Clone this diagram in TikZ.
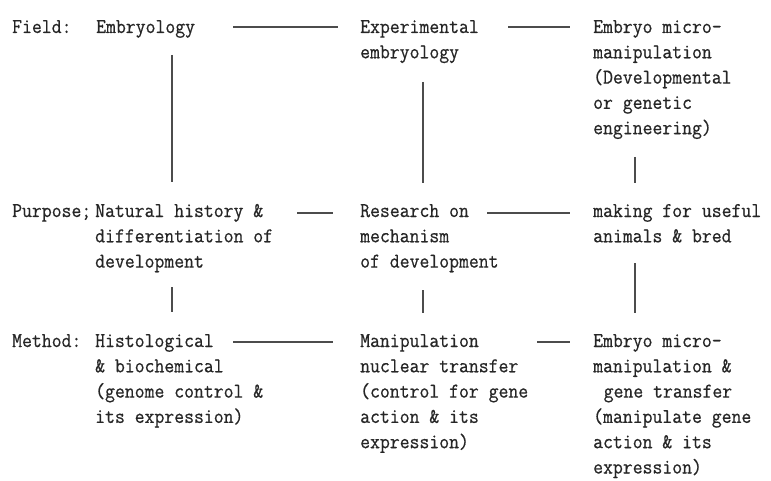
\documentclass[tikz,border=0pt]{standalone}
\usepackage{fontspec}
\newfontfamily\diagmono{Latin Modern Mono}[FakeStretch=0.914,FakeBold=0.6]
\begin{document}
\begin{tikzpicture}[x=1pt,y=-1pt]
\tikzset{
  lbl/.style={anchor=base west, inner sep=0pt, align=left,
    font=\diagmono\fontsize{21}{25.3}\selectfont, text=black!85},
  conn/.style={draw=black!70, line width=1.4pt}
}
\useasboundingbox[fill=white] (0,0) rectangle (771,481);
% row labels (anchor = baseline of last line)
\node[lbl] (fieldL) at (12,33) {Field:};
\node[lbl] (purpL) at (12,217) {Purpose;};
\node[lbl] (methL) at (12,347) {Method:};
% field row
\node[lbl] (f1) at (96,33) {Embryology};
\node[lbl] (f2) at (360,58.3) {Experimental\\embryology};
\node[lbl] (f3) at (593,134.2) {Embryo micro-\\manipulation\\(Developmental\\or genetic\\engineering)};
% purpose row
\node[lbl] (p1) at (95,267.6) {Natural history \&\\differentiation of\\development};
\node[lbl] (p2) at (360,267.6) {Research on\\mechanism\\of development};
\node[lbl] (p3) at (593,242.3) {making for useful\\animals \& bred};
% method row
\node[lbl] (m1) at (95,422.9) {Histological\\\& biochemical\\(genome control \&\\its expression)};
\node[lbl] (m2) at (360,448.2) {Manipulation\\nuclear transfer\\(control for gene\\action \& its\\expression)};
\node[lbl] (m3) at (593,473.5) {Embryo micro-\\manipulation \&\\\hspace*{0.5em}gene transfer\\(manipulate gene\\action \& its\\expression)};
% connector end points
\coordinate (f1r) at (233,27);  \coordinate (f2l) at (338,27);
\coordinate (f2r) at (508,27);  \coordinate (f3l) at (570,27);
\coordinate (p1r) at (297,213); \coordinate (p2l) at (333,213);
\coordinate (p2r) at (487,213); \coordinate (p3l) at (570,213);
\coordinate (m1r) at (233,342); \coordinate (m2l) at (333,342);
\coordinate (m2r) at (537,342); \coordinate (m3l) at (570,342);
\coordinate (f1b) at (172,55);  \coordinate (p1t) at (172,182);
\coordinate (p1b) at (172,287); \coordinate (m1t) at (172,312);
\coordinate (f2b) at (423,82);  \coordinate (p2t) at (423,183);
\coordinate (p2b) at (423,290); \coordinate (m2t) at (423,313);
\coordinate (f3b) at (635,157); \coordinate (p3t) at (635,183);
\coordinate (p3b) at (635,263); \coordinate (m3t) at (635,313);
% horizontal connectors
\draw[conn] (f1r) -- (f2l);
\draw[conn] (f2r) -- (f3l);
\draw[conn] (p1r) -- (p2l);
\draw[conn] (p2r) -- (p3l);
\draw[conn] (m1r) -- (m2l);
\draw[conn] (m2r) -- (m3l);
% vertical connectors
\draw[conn] (f1b) -- (p1t);
\draw[conn] (p1b) -- (m1t);
\draw[conn] (f2b) -- (p2t);
\draw[conn] (p2b) -- (m2t);
\draw[conn] (f3b) -- (p3t);
\draw[conn] (p3b) -- (m3t);
\end{tikzpicture}
\end{document}
